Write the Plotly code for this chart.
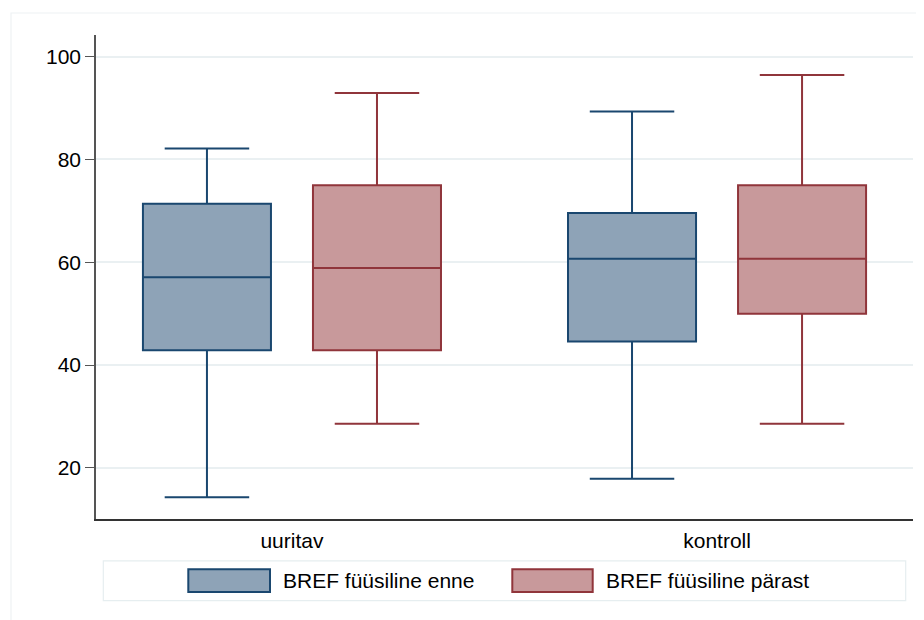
import plotly.graph_objects as go

# ---- data ----
categories = ["uuritav", "kontroll"]
series_names = ["BREF füüsiline enne", "BREF füüsiline pärast"]

enne_lower = [14.3, 17.9]
enne_q1 = [42.9, 44.6]
enne_median = [57.1, 60.7]
enne_q3 = [71.4, 69.6]
enne_upper = [82.1, 89.3]

parast_lower = [28.6, 28.6]
parast_q1 = [42.9, 50.0]
parast_median = [58.9, 60.7]
parast_q3 = [75.0, 75.0]
parast_upper = [92.9, 96.4]

y_ticks = [20, 40, 60, 80, 100]

# ---- styles ----
blue_line = "#1a476f"
blue_fill = "#8ea3b7"
red_line = "#90353b"
red_fill = "#c8999b"
FONT = "Liberation Sans, Arial, sans-serif"
FS = 21

fig = go.Figure()
fig.add_trace(go.Box(
    x=categories, q1=enne_q1, median=enne_median, q3=enne_q3,
    lowerfence=enne_lower, upperfence=enne_upper,
    name=series_names[0], boxpoints=False,
    line=dict(color=blue_line, width=2), fillcolor=blue_fill,
    whiskerwidth=0.66, showlegend=False, offsetgroup="a",
))
fig.add_trace(go.Box(
    x=categories, q1=parast_q1, median=parast_median, q3=parast_q3,
    lowerfence=parast_lower, upperfence=parast_upper,
    name=series_names[1], boxpoints=False,
    line=dict(color=red_line, width=2), fillcolor=red_fill,
    whiskerwidth=0.66, showlegend=False, offsetgroup="b",
))

# page offset (default body margin of the html page)
OFF = 8
W, H = 924 - OFF, 620 - OFF
# target plot-area edges in screen pixels
PL, PR, PT, PB = 96, 913, 35, 518.7
pw, ph = PR - PL, PB - PT

def px(x):
    return (x - PL) / pw

def py(y):
    return (PB - y) / ph

shapes = [
    # outer light frame
    dict(type="rect", xref="paper", yref="paper",
         x0=px(11), x1=px(940), y0=py(640), y1=py(13),
         line=dict(color="#eef2f4", width=1.2), fillcolor="rgba(0,0,0,0)", layer="below"),
    # legend frame
    dict(type="rect", xref="paper", yref="paper",
         x0=px(103.3), x1=px(905.7), y0=py(600.3), y1=py(560.5),
         line=dict(color="#e6eef0", width=1.2), fillcolor="white"),
    # legend swatches
    dict(type="rect", xref="paper", yref="paper",
         x0=px(188.3), x1=px(270), y0=py(591.7), y1=py(569),
         line=dict(color=blue_line, width=2), fillcolor=blue_fill),
    dict(type="rect", xref="paper", yref="paper",
         x0=px(512.3), x1=px(592.7), y0=py(591.7), y1=py(569),
         line=dict(color=red_line, width=2), fillcolor=red_fill),
]

annotations = [
    dict(text=series_names[0], xref="paper", yref="paper", x=px(281), y=py(580.5),
         xanchor="left", yanchor="middle", showarrow=False,
         font=dict(family=FONT, size=FS, color="black")),
    dict(text=series_names[1], xref="paper", yref="paper", x=px(604), y=py(580.5),
         xanchor="left", yanchor="middle", showarrow=False,
         font=dict(family=FONT, size=FS, color="black")),
]

fig.update_layout(
    width=W, height=H,
    margin=dict(l=PL - OFF, r=OFF + W - PR, t=PT - OFF, b=OFF + H - PB, pad=0),
    paper_bgcolor="white", plot_bgcolor="white",
    boxmode="group", boxgap=0.2, boxgroupgap=0.247,
    showlegend=False,
    shapes=shapes, annotations=annotations,
    font=dict(family=FONT, size=FS, color="black"),
    xaxis=dict(
        type="category", range=[-0.461, 1.461],
        showline=True, linecolor="#333333", linewidth=1.5,
        showgrid=False, zeroline=False,
        ticks="outside", ticklen=2, tickcolor="rgba(0,0,0,0)",
        tickfont=dict(family=FONT, size=FS, color="black"),
    ),
    yaxis=dict(
        range=[10.06, 104.2], tickvals=y_ticks,
        showline=True, linecolor="#555555", linewidth=1.5,
        showgrid=True, gridcolor="#eaf0f2", gridwidth=1.5,
        zeroline=False,
        ticks="outside", ticklen=9, tickcolor="#555555", tickwidth=1.2,
        tickfont=dict(family=FONT, size=FS, color="black"),
    ),
)

fig.write_html("out.html")
